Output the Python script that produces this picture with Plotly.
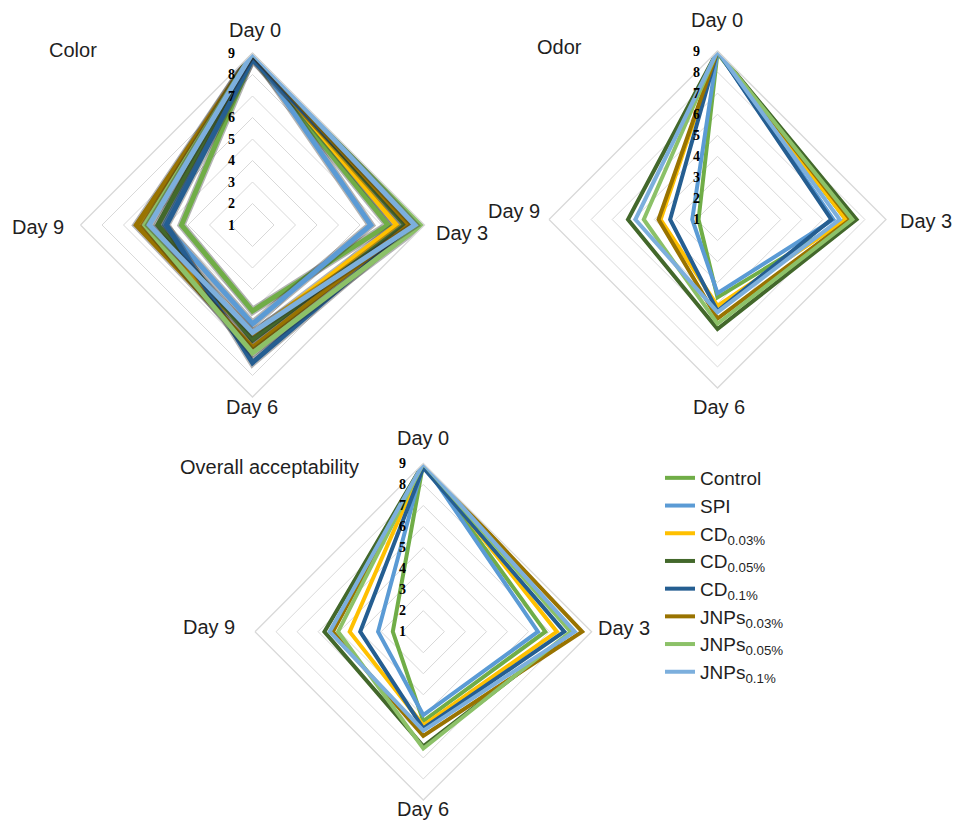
import plotly.graph_objects as go

# Sensory scores (9-point hedonic scale) over storage time
days = ["Day 0", "Day 3", "Day 6", "Day 9"]

series_names = [
    "Control", "SPI",
    "CD<sub>0.03%</sub>", "CD<sub>0.05%</sub>", "CD<sub>0.1%</sub>",
    "JNPs<sub>0.03%</sub>", "JNPs<sub>0.05%</sub>", "JNPs<sub>0.1%</sub>",
]
series_colors = [
    "#70AD47", "#5B9BD5", "#FFC000", "#43682B",
    "#255E91", "#997300", "#8CC168", "#7CAFDD",
]

color_scores = [
    [8.8, 7.3, 5.0, 4.3],
    [9.0, 6.5, 5.6, 5.1],
    [9.0, 7.7, 6.1, 6.3],
    [9.0, 8.1, 6.35, 5.4],
    [8.7, 8.5, 7.4, 5.0],
    [9.0, 8.3, 6.7, 6.4],
    [9.0, 8.85, 6.95, 6.0],
    [9.0, 8.55, 6.0, 5.8],
]

odor_scores = [
    [8.9, 7.1, 4.7, 1.9],
    [9.0, 6.5, 4.5, 2.2],
    [9.0, 7.1, 5.1, 3.7],
    [9.0, 7.6, 6.2, 5.25],
    [9.0, 6.4, 5.35, 3.25],
    [9.0, 7.3, 5.7, 3.8],
    [9.0, 7.4, 5.95, 4.5],
    [9.0, 6.8, 5.4, 4.9],
]

overall_scores = [
    [9.0, 6.8, 5.25, 2.45],
    [9.0, 6.45, 4.96, 3.15],
    [9.0, 7.35, 5.45, 4.5],
    [9.0, 8.1, 6.45, 5.7],
    [8.8, 7.7, 5.6, 4.0],
    [9.0, 8.55, 5.95, 5.3],
    [9.0, 8.0, 6.55, 5.05],
    [9.0, 8.2, 5.7, 5.45],
]

scale_ticks = [1, 2, 3, 4, 5, 6, 7, 8, 9]

W, H = 955, 826
TEXT = "#1f1f1f"
GRID = "#D9D9D9"
FONT = "Liberation Sans"


def closed(vals):
    return list(vals) + [vals[0]]


fig = go.Figure()

panels = [
    ("polar", color_scores, True),
    ("polar2", odor_scores, False),
    ("polar3", overall_scores, False),
]

for subplot, scores, shadow in panels:
    for name, col, vals in zip(series_names, series_colors, scores):
        if shadow:
            fig.add_trace(go.Scatterpolar(
                r=closed(vals), theta=closed(days), mode="lines",
                line=dict(color="rgba(40,40,40,0.35)", width=8),
                subplot=subplot, showlegend=False, hoverinfo="skip",
            ))
        fig.add_trace(go.Scatterpolar(
            r=closed(vals), theta=closed(days), mode="lines",
            name=name,
            line=dict(color=col, width=5 if shadow else 4),
            subplot=subplot,
            showlegend=(subplot == "polar3"),
            legendgroup=name,
        ))


def px_domain(cx, cy, r):
    return dict(
        x=[(cx - r) / W, (cx + r) / W],
        y=[(H - cy - r) / H, (H - cy + r) / H],
    )


def polar_layout(cx, cy, r):
    return dict(
        domain=px_domain(cx, cy, r),
        gridshape="linear",
        bgcolor="white",
        radialaxis=dict(
            range=[1, 9], tickvals=scale_ticks, ticktext=[str(t) for t in scale_ticks],
            angle=90, side="counterclockwise", tickangle=90,
            showline=False, ticks="outside", ticklen=12, tickcolor="rgba(0,0,0,0)",
            gridcolor=GRID, gridwidth=1.3,
            tickfont=dict(family="Liberation Serif", size=14, color="black", weight="bold"),
        ),
        angularaxis=dict(
            type="category", categoryarray=days,
            rotation=90, direction="clockwise",
            showgrid=False, showline=True, linecolor=GRID, linewidth=1.3,
            ticks="", showticklabels=False,
        ),
    )


# Category label placement around each diamond: (x, y, xanchor) in pixels
day_label_pos = {
    "polar": [(255, 30, "center"), (434, 233, "left"), (252, 407, "center"), (66, 227, "right")],
    "polar2": [(717, 20, "center"), (898, 221, "left"), (719, 407, "center"), (542, 211, "right")],
    "polar3": [(423, 438, "center"), (596, 628, "left"), (423, 809, "center"), (237, 627, "right")],
}

annotations = []
for subplot, positions in day_label_pos.items():
    for label, (x, y, anchor) in zip(days, positions):
        annotations.append(dict(
            text=label, x=x / W, y=1 - y / H, xref="paper", yref="paper",
            xanchor=anchor, yanchor="middle", showarrow=False,
            font=dict(family=FONT, size=20, color=TEXT),
        ))

panel_titles = [("Color", 47, 50), ("Odor", 535, 47), ("Overall acceptability", 178, 467)]
for text, x, y in panel_titles:
    annotations.append(dict(
        text=text, x=x / W, y=1 - y / H, xref="paper", yref="paper",
        xanchor="left", yanchor="middle", showarrow=False,
        font=dict(family=FONT, size=20, color=TEXT),
    ))

fig.update_layout(
    width=W, height=H,
    margin=dict(l=0, r=0, t=0, b=0),
    paper_bgcolor="white",
    plot_bgcolor="white",
    polar=polar_layout(252.5, 225, 172),
    polar2=polar_layout(717.5, 219.5, 168.5),
    polar3=polar_layout(423.3, 631.7, 168.3),
    legend=dict(
        x=660 / W, y=1 - 459 / H, xanchor="left", yanchor="top",
        font=dict(family=FONT, size=19, color=TEXT),
        bgcolor="rgba(0,0,0,0)", itemwidth=30, tracegroupgap=0,
    ),
    annotations=annotations,
)

fig.write_html("out.html")
